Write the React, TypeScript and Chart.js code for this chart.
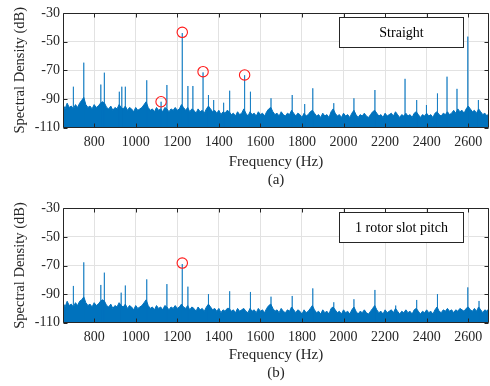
import React, { useEffect, useRef } from "react";
import { Chart, registerables } from "chart.js";

Chart.register(...registerables);

// ---------- data ----------
const X_MIN = 650;
const X_MAX = 2700;
const Y_MIN = -110;
const Y_MAX = -30;
const X_TICKS = [800, 1000, 1200, 1400, 1600, 1800, 2000, 2200, 2400, 2600];
const Y_TICKS = [-110, -90, -70, -50, -30];

// noise floor sampled every 10 Hz starting at 650 Hz
const NOISE_START = 650;
const NOISE_STEP = 10;

const NOISE_A = [
  -94, -97, -93, -96, -95, -97, -94, -96, -93, -91, -89, -94, -96, -95, -97, -94, -96, -95, -93, -92,
  -93, -96, -97, -95, -98, -96, -97, -94, -96, -97, -95, -98, -96, -97, -99, -96, -98, -97, -96, -94,
  -92, -96, -98, -97, -99, -96, -98, -97, -99, -96, -97, -99, -97, -98, -96, -98, -97, -94, -96, -98,
  -96, -99, -97, -98, -100, -97, -99, -98, -100, -97, -95, -97, -99, -98, -100, -98, -101, -99, -100, -98,
  -99, -101, -100, -102, -99, -101, -100, -97, -100, -102, -99, -101, -100, -102, -99, -101, -100, -102, -99, -97,
  -96, -99, -101, -100, -102, -99, -101, -102, -100, -101, -98, -100, -102, -100, -101, -103, -100, -102, -101, -99,
  -98, -100, -102, -101, -103, -100, -102, -101, -103, -99, -97, -100, -102, -101, -103, -100, -102, -101, -103, -100,
  -98, -101, -103, -101, -102, -100, -102, -103, -101, -99, -98, -100, -102, -101, -103, -100, -102, -101, -100, -102,
  -99, -101, -103, -101, -102, -100, -102, -101, -103, -100, -99, -101, -103, -101, -102, -100, -102, -101, -103, -100,
  -99, -101, -102, -100, -101, -99, -101, -100, -98, -100, -97, -99, -98, -100, -97, -95, -97, -99, -98, -100,
  -97, -99, -101, -100, -102, -100,
];

const PEAK_FREQ_A = [
  650, 700, 750, 832, 849, 921, 933, 950, 1053, 1122, 1150, 1224, 1251, 1275, 1324, 1350, 1375, 1423,
  1452, 1524, 1552, 1651, 1753, 1813, 1852, 1953, 2050, 2151, 2296, 2352, 2399, 2452, 2498, 2546, 2598, 2649,
];
const PEAK_DB_A = [
  -55, -81.5, -64.7, -80, -71.7, -85, -81.5, -81.5, -77, -92, -80.3, -44, -81, -81, -71.5, -87.3, -90.8, -92.7,
  -84.3, -73.5, -85, -89.6, -87.3, -93.6, -82.6, -93, -89.6, -83.8, -76, -90.8, -94.3, -86.2, -74.5, -83, -46.5, -90.8,
];
const MARK_FREQ_A = [1122, 1224, 1324, 1524];
const MARK_DB_A = [-92, -43.5, -71, -73.3];

const NOISE_B = [
  -96, -99, -95, -98, -97, -99, -96, -98, -95, -94, -92, -96, -98, -97, -99, -96, -98, -97, -95, -94,
  -95, -98, -99, -97, -100, -98, -99, -96, -98, -99, -97, -100, -98, -99, -101, -98, -100, -99, -98, -96,
  -94, -98, -100, -99, -101, -98, -100, -99, -101, -98, -99, -101, -99, -100, -98, -100, -99, -97, -99, -100,
  -98, -101, -99, -100, -102, -99, -101, -100, -102, -99, -97, -99, -101, -100, -102, -100, -103, -101, -102, -100,
  -100, -102, -101, -103, -100, -102, -101, -100, -102, -103, -100, -102, -101, -103, -100, -102, -101, -103, -100, -98,
  -97, -100, -102, -101, -103, -100, -102, -103, -101, -102, -99, -101, -103, -101, -102, -104, -101, -103, -102, -100,
  -98, -101, -103, -102, -104, -101, -103, -102, -104, -100, -99, -101, -103, -102, -104, -101, -103, -102, -104, -101,
  -99, -102, -104, -102, -103, -101, -103, -104, -102, -100, -98, -101, -103, -102, -104, -101, -103, -102, -101, -103,
  -100, -102, -104, -102, -103, -101, -103, -102, -104, -101, -100, -102, -104, -102, -103, -101, -103, -102, -104, -101,
  -99, -102, -103, -101, -102, -100, -102, -101, -103, -101, -102, -100, -101, -102, -100, -99, -101, -102, -100, -102,
  -99, -101, -103, -101, -102, -100,
];

const PEAK_FREQ_B = [
  650, 700, 750, 832, 849, 930, 950, 1053, 1150, 1224, 1251, 1350, 1452, 1552, 1651, 1753, 1852, 1953,
  2050, 2151, 2251, 2352, 2452, 2598, 2652,
];
const PEAK_DB_B = [
  -58, -84.3, -67.8, -83.6, -75, -89, -84, -79.7, -83, -69, -84.8, -90, -88, -88.5, -91.8, -91.3, -86, -95.7,
  -93.6, -87.1, -98, -94.1, -90, -85.3, -94.8,
];
const MARK_FREQ_B = [1224];
const MARK_DB_B = [-68.3];

const LABEL_A = "Straight";
const LABEL_B = "1 rotor slot pitch";
const CAPTION_A = "(a)";
const CAPTION_B = "(b)";
const X_TITLE = "Frequency (Hz)";
const Y_TITLE = "Spectral Density (dB)";

// ---------- styling ----------
const BLUE = "#0072BD";
const SPIKE = "rgba(0,114,189,0.8)";
const AXIS = "#262626";
const GRID = "#e2e2e2";
const FONT = '"Liberation Serif", "Times New Roman", serif';

const framePlugin = {
  id: "frame",
  afterDraw(chart: any, _args: any, opts: any) {
    const { ctx, chartArea: a, scales } = chart;
    const L = Math.round(a.left) + 0.5;
    const R = Math.round(a.right) - 0.5;
    const T = Math.round(a.top) + 0.5;
    const B = Math.round(a.bottom) - 0.5;
    ctx.save();
    ctx.strokeStyle = AXIS;
    ctx.lineWidth = 1;
    ctx.beginPath();
    ctx.rect(L, T, R - L, B - T);
    const tl = 4;
    for (const v of X_TICKS) {
      const px = Math.round(scales.x.getPixelForValue(v)) + 0.5;
      ctx.moveTo(px, B);
      ctx.lineTo(px, B - tl);
      ctx.moveTo(px, T);
      ctx.lineTo(px, T + tl);
    }
    for (const v of Y_TICKS) {
      const py = Math.round(scales.y.getPixelForValue(v)) + 0.5;
      ctx.moveTo(L, py);
      ctx.lineTo(L + tl, py);
      ctx.moveTo(R, py);
      ctx.lineTo(R - tl, py);
    }
    ctx.stroke();

    // legend-like label box
    const bw = 124;
    const bh = 30;
    const bx = Math.round(a.right - 150) + 0.5;
    const by = Math.round(a.top + 4) + 0.5;
    ctx.fillStyle = "#ffffff";
    ctx.fillRect(bx, by, bw, bh);
    ctx.strokeRect(bx, by, bw, bh);
    ctx.fillStyle = "#000000";
    ctx.font = `14px ${FONT}`;
    ctx.textAlign = "center";
    ctx.textBaseline = "middle";
    ctx.fillText(opts.label, bx + bw / 2, by + bh / 2 + 1);
    ctx.restore();
  },
};

type PanelProps = {
  noise: number[];
  peakF: number[];
  peakV: number[];
  markF: number[];
  markV: number[];
  label: string;
  caption: string;
  topPad: number;
  xHeight: number;
  top: number;
};

function Panel(p: PanelProps) {
  const ref = useRef<HTMLCanvasElement | null>(null);
  useEffect(() => {
    if (!ref.current) return;
    const noiseData = p.noise.map((v, i) => ({ x: NOISE_START + i * NOISE_STEP, y: v }));
    const spikeData: { x: number; y: number }[] = [];
    p.peakF.forEach((f, i) => {
      spikeData.push({ x: f, y: Y_MIN });
      spikeData.push({ x: f, y: p.peakV[i] });
      spikeData.push({ x: f, y: Y_MIN });
    });
    const markData = p.markF.map((f, i) => ({ x: f, y: p.markV[i] }));

    const chart = new Chart(ref.current, {
      type: "line",
      data: {
        datasets: [
          {
            data: markData,
            showLine: false,
            pointRadius: 5.2,
            pointStyle: "circle",
            pointBorderColor: "#ff1a1a",
            pointBackgroundColor: "rgba(0,0,0,0)",
            pointBorderWidth: 1.1,
            borderColor: "#ff1a1a",
          } as any,
          {
            data: spikeData,
            borderColor: SPIKE,
            borderWidth: 0.9,
            pointRadius: 0,
            fill: false,
            tension: 0,
          },
          {
            data: noiseData,
            borderColor: BLUE,
            backgroundColor: BLUE,
            borderWidth: 1,
            pointRadius: 0,
            fill: "start",
            tension: 0,
          },
        ],
      },
      options: {
        animation: false,
        responsive: false,
        maintainAspectRatio: false,
        events: [],
        layout: { autoPadding: false, padding: { top: p.topPad, right: 1, left: 0, bottom: 0 } },
        plugins: {
          legend: { display: false },
          tooltip: { enabled: false },
          frame: { label: p.label },
        } as any,
        scales: {
          x: {
            type: "linear",
            min: X_MIN,
            max: X_MAX,
            afterBuildTicks: (s: any) => {
              s.ticks = X_TICKS.map((v) => ({ value: v }));
            },
            afterFit: (s: any) => {
              s.height = p.xHeight;
              s.paddingLeft = 0;
              s.paddingRight = 0;
            },
            grid: { color: GRID, drawTicks: false, lineWidth: 1 },
            border: { display: false },
            ticks: {
              color: AXIS,
              font: { family: FONT, size: 14 },
              padding: 6,
              maxRotation: 0,
              autoSkip: false,
              callback: (v: any) => String(v),
            },
            title: {
              display: true,
              text: [X_TITLE, p.caption],
              color: AXIS,
              font: { family: FONT, size: 15, lineHeight: 1.2 },
              padding: { top: 0, bottom: 4 },
            },
          },
          y: {
            type: "linear",
            min: Y_MIN,
            max: Y_MAX,
            afterBuildTicks: (s: any) => {
              s.ticks = Y_TICKS.map((v) => ({ value: v }));
            },
            afterFit: (s: any) => {
              s.width = 63;
              s.paddingTop = 0;
              s.paddingBottom = 0;
            },
            grid: { color: GRID, drawTicks: false, lineWidth: 1 },
            border: { display: false },
            ticks: {
              color: AXIS,
              font: { family: FONT, size: 14 },
              padding: 3,
              autoSkip: false,
              callback: (v: any) => String(v),
            },
            title: {
              display: true,
              text: Y_TITLE,
              color: AXIS,
              font: { family: FONT, size: 14.5, lineHeight: 1.2 },
              padding: { top: 11, bottom: 0 },
            },
          },
        },
      },
      plugins: [framePlugin as any],
    });
    return () => chart.destroy();
  }, []);

  return (
    <canvas
      ref={ref}
      width={490}
      height={193}
      style={{ position: "absolute", left: 0, top: p.top, width: 490, height: 193, display: "block" }}
    />
  );
}

export default function App() {
  return (
    <div style={{ position: "absolute", left: 0, top: 0, width: 490, height: 386, background: "#fff" }}>
      <Panel
        noise={NOISE_A}
        peakF={PEAK_FREQ_A}
        peakV={PEAK_DB_A}
        markF={MARK_FREQ_A}
        markV={MARK_DB_A}
        label={LABEL_A}
        caption={CAPTION_A}
        topPad={13}
        xHeight={65.5}
        top={0}
      />
      <Panel
        noise={NOISE_B}
        peakF={PEAK_FREQ_B}
        peakV={PEAK_DB_B}
        markF={MARK_FREQ_B}
        markV={MARK_DB_B}
        label={LABEL_B}
        caption={CAPTION_B}
        topPad={15.3}
        xHeight={63.3}
        top={193}
      />
    </div>
  );
}
